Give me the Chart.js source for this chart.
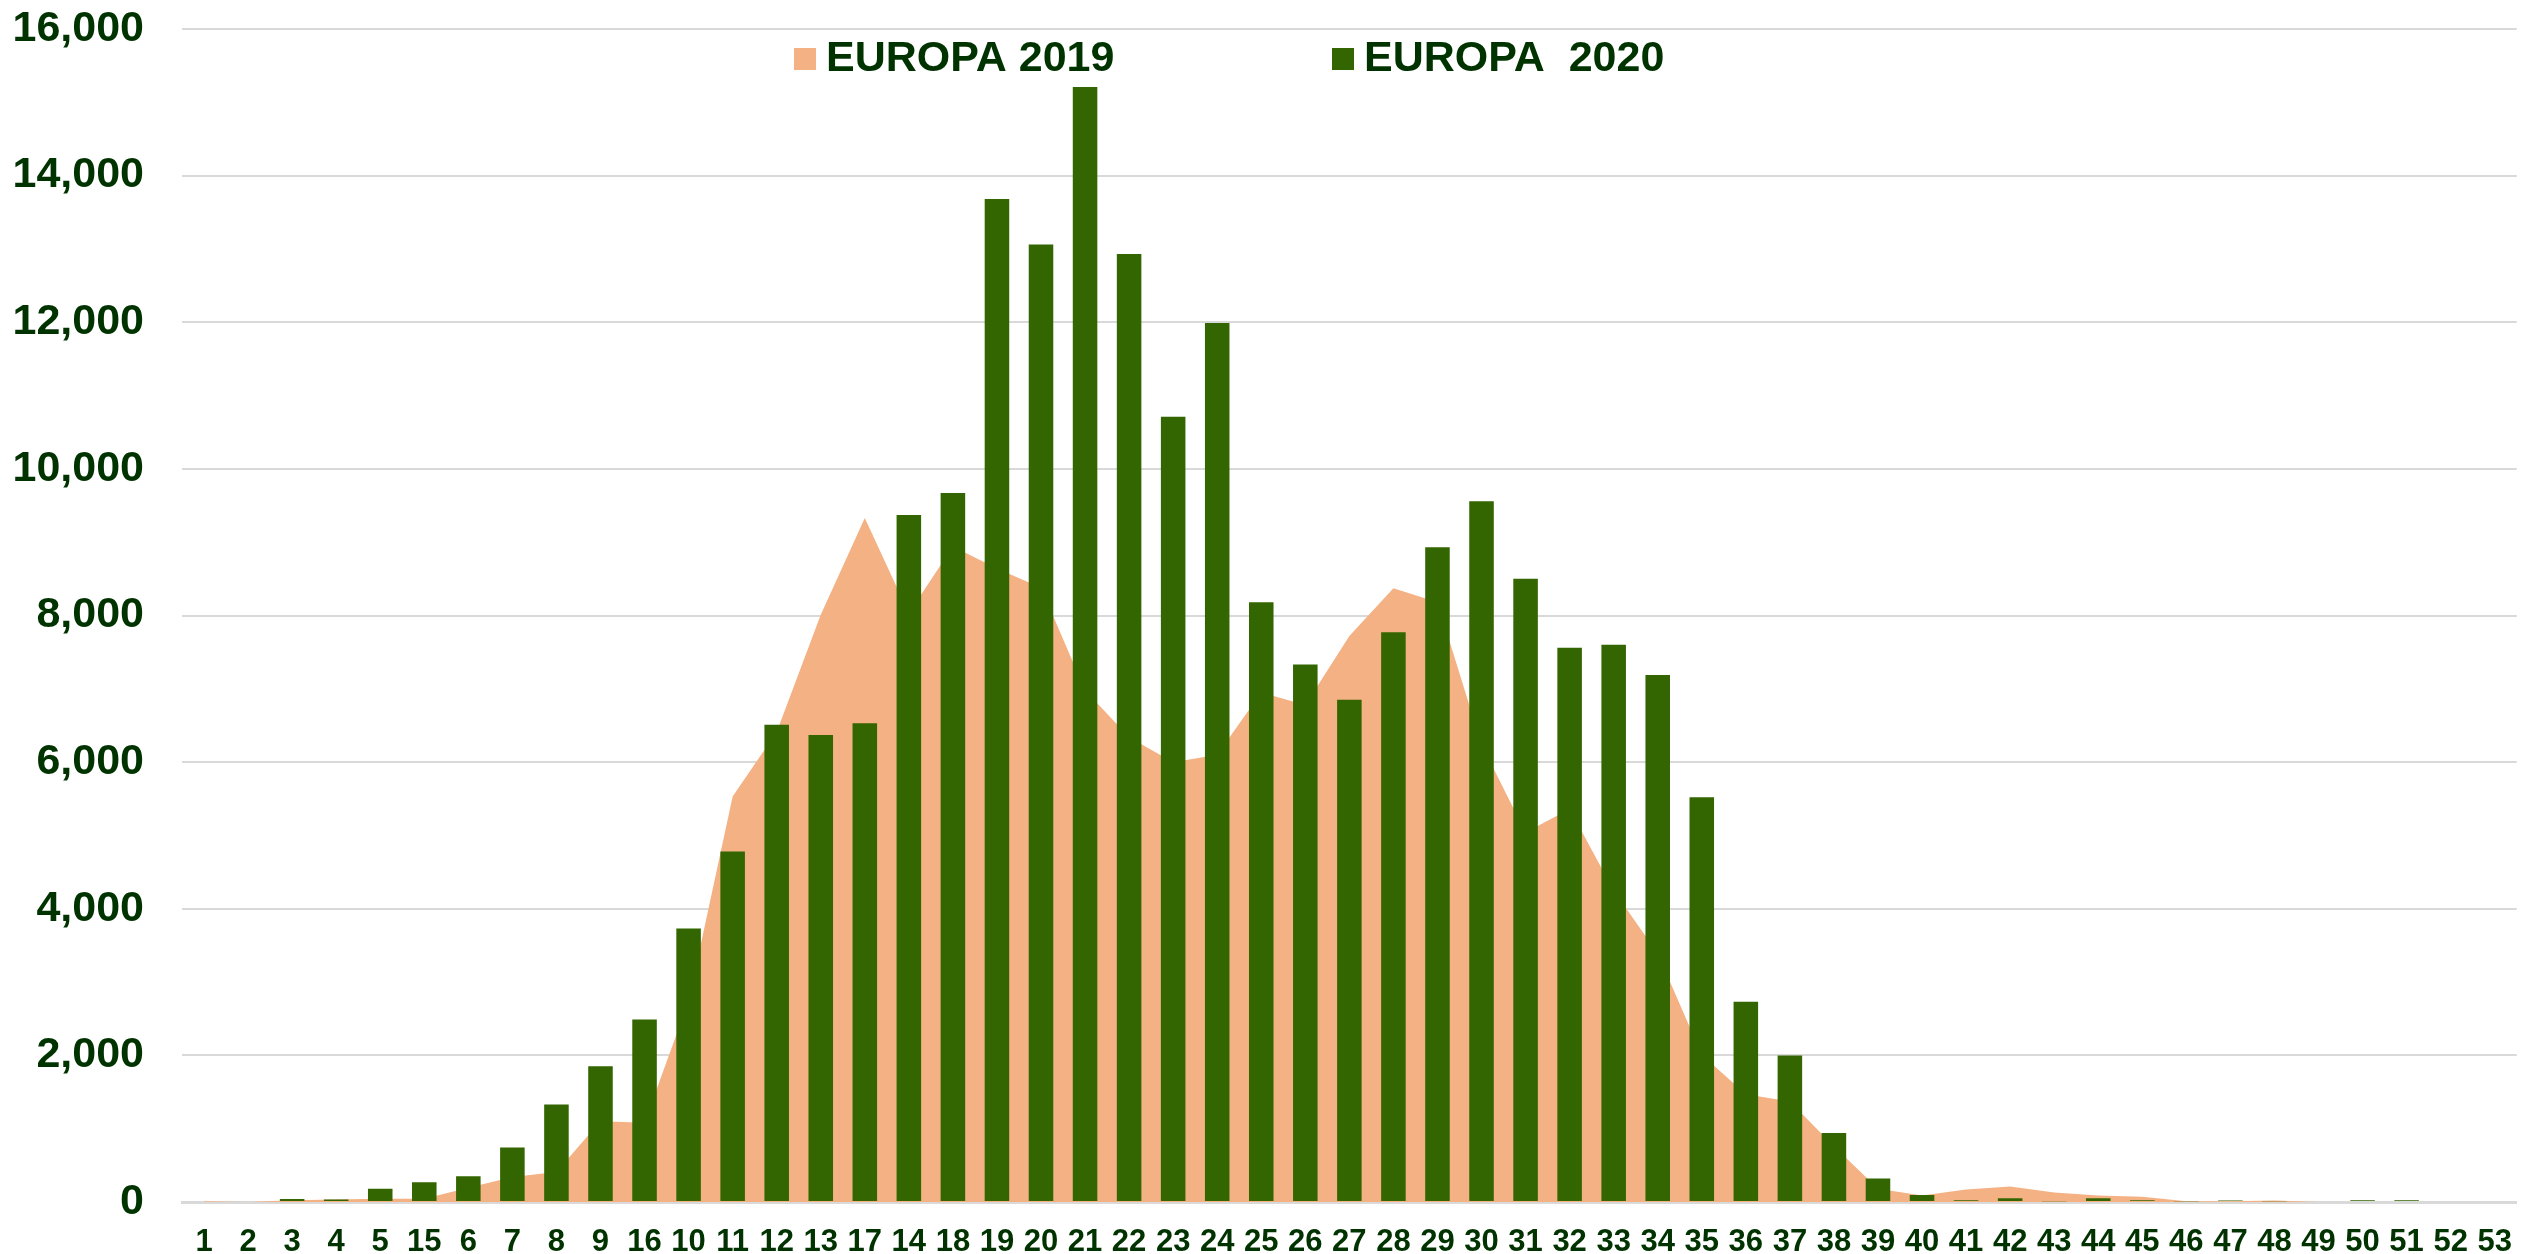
<!DOCTYPE html>
<html>
<head>
<meta charset="utf-8">
<title>EUROPA 2019 - 2020</title>
<script src="https://cdn.jsdelivr.net/npm/chart.js@4/dist/chart.umd.min.js"></script>
<style>
  html, body { margin: 0; padding: 0; background: #ffffff; }
  #grafica { display: block; }
</style>
</head>
<body>
<canvas id="grafica" width="2534" height="1254"></canvas>
<script>
// Semanas (en el mismo orden que el original)
const semanas = ['1', '2', '3', '4', '5', '15', '6', '7', '8', '9', '16', '10', '11', '12', '13', '17', '14',
  '18', '19', '20', '21', '22', '23', '24', '25', '26', '27', '28', '29', '30', '31', '32', '33', '34', '35',
  '36', '37', '38', '39', '40', '41', '42', '43', '44', '45', '46', '47', '48', '49', '50', '51', '52', '53'];

// Serie 2019 (área)
const europa2019 = [10, 0, 25, 35, 45, 45, 195, 340, 410, 1100, 1080, 2740, 5530, 6410, 8010, 9330, 8030,
  8940, 8640, 8380, 6980, 6340, 6000, 6100, 6950, 6780, 7720, 8370, 8180, 6240, 5040, 5360, 4250, 3390, 2010,
  1470, 1370, 760, 180, 90, 170, 210, 130, 90, 70, 10, 10, 20, 0, 0, 0, 0, 0];

// Serie 2020 (barras)
const europa2020 = [0, 0, 40, 35, 180, 270, 350, 745, 1330, 1850, 2490, 3730, 4780, 6510, 6370, 6530, 9370,
  9670, 13680, 13060, 15210, 12930, 10710, 11990, 8180, 7330, 6850, 7770, 8930, 9560, 8500, 7560, 7600, 7190, 5520,
  2730, 2000, 940, 320, 95, 25, 50, 10, 50, 25, 10, 20, 10, 0, 25, 25, 0, 0];

// Marcas del eje Y
const ejeYMin = 0;
const ejeYMax = 16000;
const ejeYPaso = 2000;

const verdeTexto = '#003300';
const fuente = "'Liberation Sans', Arial, sans-serif";

// Leyenda dibujada dentro del área de la gráfica
const leyendaInterna = {
  id: 'leyendaInterna',
  afterDraw(chart) {
    const ctx = chart.ctx;
    const posiciones = [794, 1332];
    ctx.save();
    ctx.font = `bold 43px ${fuente}`;
    ctx.textBaseline = 'middle';
    ctx.textAlign = 'left';
    chart.data.datasets.forEach((ds, i) => {
      const x = posiciones[i];
      ctx.fillStyle = ds.backgroundColor;
      ctx.fillRect(x, 48, 22, 22);
      ctx.fillStyle = verdeTexto;
      ctx.fillText(ds.label, x + 32, 59);
    });
    ctx.restore();
  }
};

const ctx = document.getElementById('grafica').getContext('2d');
const chart = new Chart(ctx, {
  type: 'bar',
  data: {
    labels: semanas,
    datasets: [
      {
        type: 'line',
        label: 'EUROPA 2019',
        data: europa2019,
        backgroundColor: '#F4B183',
        borderColor: 'rgba(0,0,0,0)',
        borderWidth: 0,
        pointRadius: 0,
        tension: 0,
        fill: 'origin',
        order: 2
      },
      {
        type: 'bar',
        label: 'EUROPA  2020',
        data: europa2020,
        backgroundColor: '#336600',
        categoryPercentage: 1,
        barPercentage: 0.557,
        order: 1
      }
    ]
  },
  options: {
    responsive: false,
    animation: false,
    devicePixelRatio: 1,
    layout: { padding: { top: 29, right: 6, bottom: 0, left: 0 } },
    plugins: {
      legend: { display: false },
      tooltip: { enabled: false }
    },
    scales: {
      x: {
        offset: true,
        grid: { display: false, drawTicks: false },
        border: { display: true, color: '#D9D9D9', width: 3 },
        ticks: {
          color: verdeTexto,
          font: { family: fuente, size: 31, weight: 'bold' },
          padding: 22,
          maxRotation: 0,
          autoSkip: false
        },
        afterFit(scale) { scale.height = 52; }
      },
      y: {
        min: ejeYMin,
        max: ejeYMax,
        // marcas invisibles para separar las etiquetas sin inflar el margen vertical
        grid: { color: '#D9D9D9', lineWidth: 2, drawTicks: true, tickLength: 38, tickColor: 'rgba(0,0,0,0)' },
        border: { display: false },
        ticks: {
          stepSize: ejeYPaso,
          color: verdeTexto,
          font: { family: fuente, size: 43, weight: 'bold' },
          padding: 0,
          callback: (v) => v.toLocaleString('en-US')
        },
        afterFit(scale) { scale.width = 182; }
      }
    }
  },
  plugins: [leyendaInterna]
});
</script>
</body>
</html>
